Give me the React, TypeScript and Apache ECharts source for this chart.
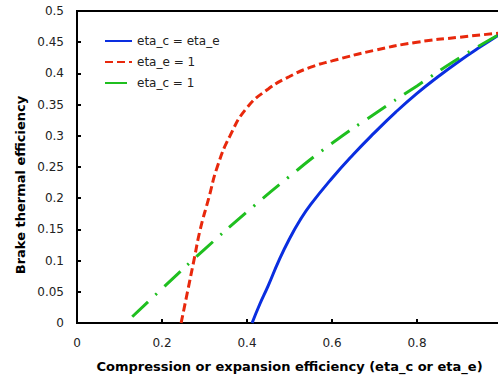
import React, { useEffect, useRef } from "react";
import * as echarts from "echarts";

const blueX = [0.412, 0.43, 0.45, 0.475, 0.5, 0.525, 0.55, 0.6, 0.65, 0.7, 0.75, 0.8, 0.85, 0.9, 0.95, 1.0];
const blueY = [0, 0.03, 0.06, 0.1, 0.135, 0.165, 0.19, 0.232, 0.27, 0.305, 0.338, 0.368, 0.395, 0.42, 0.443, 0.465];

const redX = [0.245, 0.26, 0.275, 0.29, 0.31, 0.33, 0.36, 0.4, 0.45, 0.5, 0.55, 0.6, 0.7, 0.8, 0.9, 1.0];
const redY = [0, 0.05, 0.1, 0.15, 0.2, 0.25, 0.3, 0.345, 0.375, 0.395, 0.41, 0.42, 0.437, 0.45, 0.458, 0.465];

const greenX = [0.13, 0.2, 0.3, 0.4, 0.5, 0.6, 0.7, 0.8, 0.9, 1.0];
const greenY = [0.01, 0.055, 0.118, 0.178, 0.235, 0.288, 0.335, 0.38, 0.425, 0.465];

const seriesNames = ["eta_c = eta_e", "eta_e = 1", "eta_c = 1"];
const xTicks = [0, 0.2, 0.4, 0.6, 0.8];
const xTitle = "Compression or expansion efficiency (eta_c or eta_e)";
const yTitle = "Brake thermal efficiency";

const zip = (xs: number[], ys: number[]) => xs.map((x, i) => [x, ys[i]]);

export default function App() {
  const ref = useRef<HTMLDivElement>(null);
  useEffect(() => {
    document.body.style.margin = "0";
    const chart = echarts.init(ref.current!, null, { renderer: "svg" });
    const font = "DejaVu Sans";
    chart.setOption({
      animation: false,
      textStyle: { fontFamily: font },
      grid: {
        left: 77,
        top: 11,
        width: 425,
        height: 315,
        show: true,
        borderColor: "#000",
        borderWidth: 2,
      },
      legend: {
        orient: "vertical",
        left: 99,
        top: 30,
        itemWidth: 27,
        itemHeight: 10,
        itemGap: 9,
        itemStyle: { opacity: 0 },
        textStyle: { fontSize: 12, color: "#222", fontFamily: font },
        data: seriesNames,
      },
      graphic: [
        {
          type: "text",
          x: 20,
          y: 185,
          rotation: Math.PI / 2,
          style: {
            text: yTitle,
            fontFamily: font,
            fontWeight: "bold",
            fontSize: 13,
            fill: "#000",
            align: "center",
            verticalAlign: "middle",
          },
        },
      ],
      xAxis: {
        type: "value",
        min: 0,
        max: 1,
        interval: 0.2,
        name: xTitle,
        nameLocation: "middle",
        nameGap: 37,
        nameTextStyle: { fontWeight: "bold", fontSize: 13, color: "#000", fontFamily: font },
        axisLine: { lineStyle: { color: "#000", width: 2 } },
        axisTick: { inside: true, length: 4, lineStyle: { color: "#000", width: 2 } },
        axisLabel: {
          fontSize: 12,
          color: "#222",
          margin: 14,
          formatter: (v: number) => (xTicks.some((t) => Math.abs(t - v) < 1e-9) ? String(v) : ""),
        },
        splitLine: { show: false },
      },
      yAxis: {
        type: "value",
        min: 0,
        max: 0.5,
        interval: 0.05,
        axisLine: { lineStyle: { color: "#000", width: 2 } },
        axisTick: { inside: true, length: 4, lineStyle: { color: "#000", width: 2 } },
        axisLabel: {
          fontSize: 12,
          color: "#222",
          margin: 13,
          formatter: (v: number) => String(Math.round(v * 100) / 100),
        },
        splitLine: { show: false },
      },
      series: [
        {
          name: seriesNames[0],
          type: "line",
          smooth: true,
          showSymbol: false,
          symbol: "none",
          data: zip(blueX, blueY),
          lineStyle: { color: "#0a2ee0", width: 3 },
          itemStyle: { color: "#0a2ee0" },
        },
        {
          name: seriesNames[1],
          type: "line",
          smooth: true,
          showSymbol: false,
          symbol: "none",
          data: zip(redX, redY),
          lineStyle: { color: "#e8280c", width: 3, type: [8, 4] },
          itemStyle: { color: "#e8280c" },
        },
        {
          name: seriesNames[2],
          type: "line",
          smooth: true,
          showSymbol: false,
          symbol: "none",
          data: zip(greenX, greenY),
          lineStyle: { color: "#1fbf1f", width: 3, type: [22, 10, 2, 10] },
          itemStyle: { color: "#1fbf1f" },
        },
      ],
    });
    return () => chart.dispose();
  }, []);
  return (
    <div style={{ width: 498, height: 378, overflow: "hidden" }}>
      <div ref={ref} style={{ width: 510, height: 378 }} />
    </div>
  );
}
